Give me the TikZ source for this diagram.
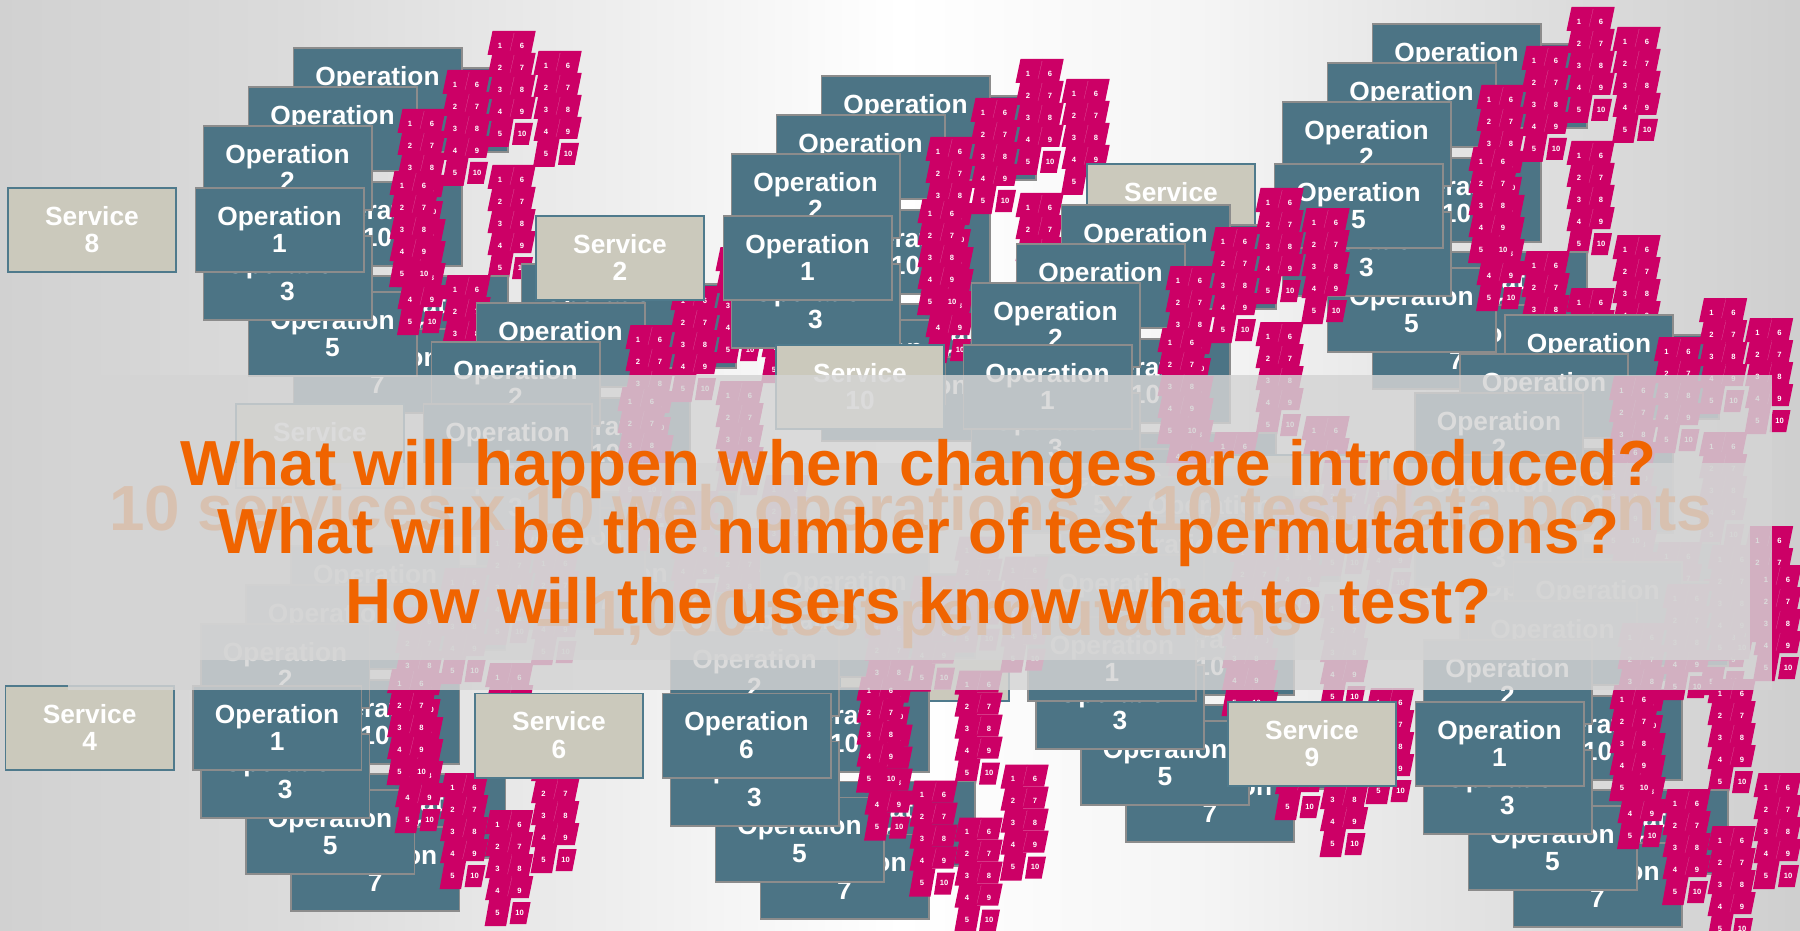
\documentclass[tikz,border=0pt]{standalone}
\usepackage{fontspec}
\setmainfont{Liberation Sans}
\definecolor{teal}{HTML}{4C7485}
\definecolor{opedge}{HTML}{8C8C8C}
\definecolor{svcfill}{HTML}{CBC9BC}
\definecolor{svcedge}{HTML}{4F7A8C}
\definecolor{tile}{HTML}{CC0066}
\definecolor{tileline}{HTML}{DC4A94}
\definecolor{veil}{HTML}{D4D4D4}
\definecolor{orangeq}{HTML}{F06400}
\tikzset{
  opbox/.style={draw=opedge,line width=1.6pt,fill=teal,text=white,anchor=north west,
    minimum width=168.4pt,minimum height=84.4pt,inner sep=0pt,align=center,
    font=\fontsize{26.3}{27.5}\selectfont\bfseries},
  svcbox/.style={opbox,draw=svcedge,fill=svcfill},
  tilenum/.style={text=white,inner sep=0pt,font=\fontsize{7.6}{8}\selectfont\bfseries},
  bigq/.style={text=orangeq,inner sep=0pt,anchor=base,font=\fontsize{63.7}{64}\selectfont\bfseries},
  bigf/.style={text=orangeq,inner sep=0pt,anchor=base,font=\fontsize{63.8}{64}\selectfont\bfseries},
}
% one block of ten numbered test tiles; #1,#2 = top-left of the block
\newcommand\tileset[2]{%
  \begin{scope}[shift={(#1,#2)}]
    \foreach \r in {0,1,2,3}{
      \fill[tile] (5.5,22*\r) -- (27.2,22*\r) -- (22.5,22*\r+24) -- (0.5,22*\r+24) -- cycle;
      \fill[tile] (27,22*\r) -- (48.7,22*\r) -- (44.2,22*\r+22) -- (22.4,22*\r+22) -- cycle;
      \draw[tileline,line width=.3pt] (27.2,22*\r+2) -- (23,22*\r+20);
    }
    \fill[tile] (5,88) -- (26.5,88) -- (21.5,116) -- (0,116) -- cycle;
    \fill[tile] (28.3,92) -- (46,92) -- (41.7,114) -- (25,114) -- cycle;
    \foreach \r in {0,1,2,3,4}{
      \pgfmathtruncatemacro\na{\r+1}
      \pgfmathtruncatemacro\nb{\r+6}
      \path (13,14.5+22*\r) node[tilenum] {\na} (35,14.5+22*\r) node[tilenum] {\nb};
    }
  \end{scope}}
% one operation box with its tile block
\newcommand\opitem[3]{%
  \node[opbox] at (#1,#2) {Operation\\#3\vrule depth 0.8pt width 0pt height 0pt};
  \pgfmathsetmacro\tx{#1+194.5}\pgfmathsetmacro\ty{#2-16}
  \tileset{\tx}{\ty}}
% service x, service y, service number, label of first operation
\newcommand\cluster[4]{%
  \node[svcbox] at (#1,#2) {Service\\#3\vrule depth 0.8pt width 0pt height 0pt};
  \pgfmathsetmacro\ox{#1+187.5}\pgfmathsetmacro\oy{#2}
  \begin{scope}[shift={(\ox,\oy)}]
    \opitem{98}{-6}{10}
    \opitem{144}{88}{9}
    \opitem{144}{-120}{8}
    \opitem{98}{141}{7}
    \opitem{98}{-140}{6}
    \opitem{53}{104}{5}
    \opitem{53}{-101}{4}
    \opitem{8}{48}{3}
    \opitem{8}{-62}{2}
    \opitem{0}{0}{#4}
  \end{scope}}
\begin{document}
\begin{tikzpicture}[x=1pt,y=-1pt]
\useasboundingbox (0,0) rectangle (1800,931);
\clip (0,0) rectangle (1800,931);
% background
\fill[left color=black!18,right color=black!14] (0,0) rectangle (300.5,931);
\fill[left color=black!14,right color=black!7] (300,0) rectangle (600.5,931);
\fill[left color=black!7,right color=white] (600,0) rectangle (900.5,931);
\fill[left color=white,right color=black!4] (900,0) rectangle (1200.5,931);
\fill[left color=black!4,right color=black!12] (1200,0) rectangle (1500.5,931);
\fill[left color=black!12,right color=black!19] (1500,0) rectangle (1800,931);
% clusters
\cluster{7}{187}{8}{1}
\cluster{235}{403}{\phantom{1}}{1}
\cluster{535}{215}{2}{1}
\cluster{1086}{163}{\phantom{1}}{5}
\cluster{775}{344}{10}{1}
\cluster{1218.5}{454}{\phantom{1}}{1}
\cluster{4.6}{685}{4}{1}
\cluster{839.5}{616}{\phantom{1}}{1}
\cluster{474}{692.5}{6}{6}
\cluster{1227}{701}{9}{1}
% inner veil, old caption, outer veil, questions
\fill[veil,opacity=.8] (68,463) rectangle (1750,660);
\node[bigf] (capa) at (910.5,530) {10 services x 10 web operations x 10 test data points};
\node[bigf] (capb) at (919.5,635) {= 1,000 test permutations};
\fill[veil,opacity=.83] (68,375) rectangle (1772,690);
\node[bigq] (qa) at (918.5,485) {What will happen when changes are introduced?};
\node[bigq] (qb) at (918.5,553.5) {What will be the number of test permutations?};
\node[bigq] (qc) at (918.5,623) {How will the users know what to test?};
\end{tikzpicture}
\end{document}
